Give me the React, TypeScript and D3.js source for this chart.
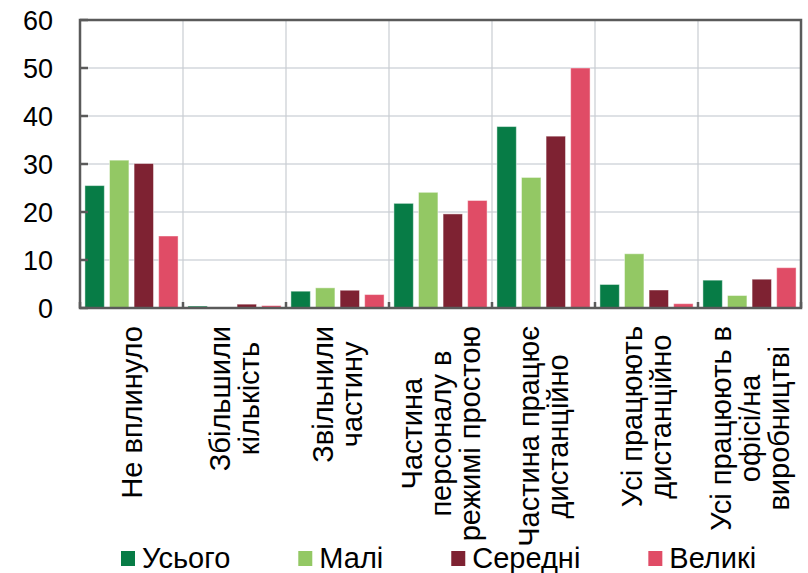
import React from "react";
import * as d3 from "d3";

const categories: string[][] = [
  ["Не вплинуло"],
  ["Збільшили", "кількість"],
  ["Звільнили", "частину"],
  ["Частина", "персоналу в", "режимі простою"],
  ["Частина працює", "дистанційно"],
  ["Усі працюють", "дистанційно"],
  ["Усі працюють в", "офісі/на", "виробництві"],
];

const seriesNames = ["Усього", "Малі", "Середні", "Великі"];
const seriesColors = ["#077c46", "#93c864", "#7e2232", "#e04c66"];

const totalValues = [25.5, 0.4, 3.5, 21.8, 37.8, 4.9, 5.8];
const smallValues = [30.8, 0, 4.2, 24.1, 27.2, 11.3, 2.6];
const mediumValues = [30.1, 0.8, 3.7, 19.6, 35.8, 3.75, 6.0];
const largeValues = [15.0, 0.5, 2.8, 22.4, 50.0, 0.9, 8.4];

const seriesValues = [totalValues, smallValues, mediumValues, largeValues];
const yTicks = [0, 10, 20, 30, 40, 50, 60];

const W = 808;
const H = 573;
const M = { left: 80, top: 20, right: 7, bottom: 265 };
const FONT = "'Liberation Sans', Arial, sans-serif";

let ctx: CanvasRenderingContext2D | null = null;
function measure(text: string, size: number): number {
  if (!ctx) ctx = document.createElement("canvas").getContext("2d");
  if (!ctx) return text.length * size * 0.55;
  ctx.font = `${size}px 'Liberation Sans', Arial, sans-serif`;
  return ctx.measureText(text).width;
}

export default function App() {
  const x0 = d3
    .scaleBand<number>()
    .domain(categories.map((_, i) => i))
    .range([M.left, W - M.right])
    .paddingInner(0)
    .paddingOuter(0);
  const x1 = d3
    .scaleBand<number>()
    .domain(seriesNames.map((_, i) => i))
    .range([0, x0.bandwidth()])
    .paddingInner(0.21)
    .paddingOuter(0.2);
  const y = d3.scaleLinear().domain([0, 60]).range([H - M.bottom, M.top]);

  const plotL = M.left;
  const plotR = W - M.right;
  const plotT = M.top;
  const plotB = H - M.bottom;

  const labelSize = 29;
  const lineH = 29;
  const labelTop = 326;

  const legendSize = 29;
  const legendY = 551;
  let lx = 121;
  const legendItems = seriesNames.map((name, i) => {
    const item = { name, color: seriesColors[i], x: lx };
    lx += 14 + 7 + measure(name, legendSize) + 68;
    return item;
  });

  const boundaries = d3.range(categories.length + 1).map((i) =>
    i < categories.length ? (x0(i) as number) : plotR
  );

  return (
    <svg
      width={W}
      height={H}
      style={{ position: "absolute", left: 0, top: 0, background: "#fff" }}
      fontFamily={FONT}
    >
      {yTicks.slice(1).map((t) => (
        <line
          key={"h" + t}
          x1={plotL}
          x2={plotR}
          y1={y(t)}
          y2={y(t)}
          stroke="#d3d7dc"
          strokeWidth={1.5}
        />
      ))}
      {boundaries.slice(1, -1).map((bx, i) => (
        <line
          key={"v" + i}
          x1={bx}
          x2={bx}
          y1={plotT}
          y2={plotB}
          stroke="#c9cdd2"
          strokeWidth={1.2}
        />
      ))}
      {categories.map((_, ci) =>
        seriesValues.map((vals, si) => {
          const v = vals[ci];
          if (v <= 0) return null;
          const bx = (x0(ci) as number) + (x1(si) as number);
          return (
            <rect
              key={ci + "-" + si}
              x={bx}
              y={y(v)}
              width={x1.bandwidth()}
              height={y(0) - y(v)}
              fill={seriesColors[si]}
              stroke="#ffffff"
              strokeOpacity={0.45}
              strokeWidth={1}
            />
          );
        })
      )}
      <rect
        x={plotL}
        y={plotT}
        width={plotR - plotL}
        height={plotB - plotT}
        fill="none"
        stroke="#5a5a5a"
        strokeWidth={2.5}
      />
      {yTicks.map((t) => (
        <g key={"yt" + t}>
          <line x1={plotL} x2={plotL + 8} y1={y(t)} y2={y(t)} stroke="#5a5a5a" strokeWidth={2.5} />
          <text
            x={53}
            y={y(t)}
            dy="0.36em"
            textAnchor="end"
            fontSize={27}
            fill="#000"
          >
            {t}
          </text>
        </g>
      ))}
      {boundaries.map((bx, i) => (
        <line key={"xt" + i} x1={bx} x2={bx} y1={plotB} y2={plotB - 6} stroke="#5a5a5a" strokeWidth={2.5} />
      ))}
      {categories.map((lines, ci) => {
        const cx = (x0(ci) as number) + x0.bandwidth() / 2;
        const maxW = Math.max(...lines.map((l) => measure(l, labelSize)));
        const cy = labelTop + maxW / 2;
        const n = lines.length;
        return (
          <g key={"cl" + ci} transform={`translate(${cx},${cy}) rotate(-90)`}>
            {lines.map((l, li) => (
              <text
                key={li}
                x={0}
                y={(li - (n - 1) / 2) * lineH}
                dy="0.35em"
                textAnchor="middle"
                fontSize={labelSize}
                fill="#000"
              >
                {l}
              </text>
            ))}
          </g>
        );
      })}
      {legendItems.map((it) => (
        <g key={"lg" + it.name}>
          <rect x={it.x} y={legendY} width={14} height={15} fill={it.color} />
          <text x={it.x + 21} y={legendY + 17} fontSize={legendSize} fill="#000">
            {it.name}
          </text>
        </g>
      ))}
    </svg>
  );
}
